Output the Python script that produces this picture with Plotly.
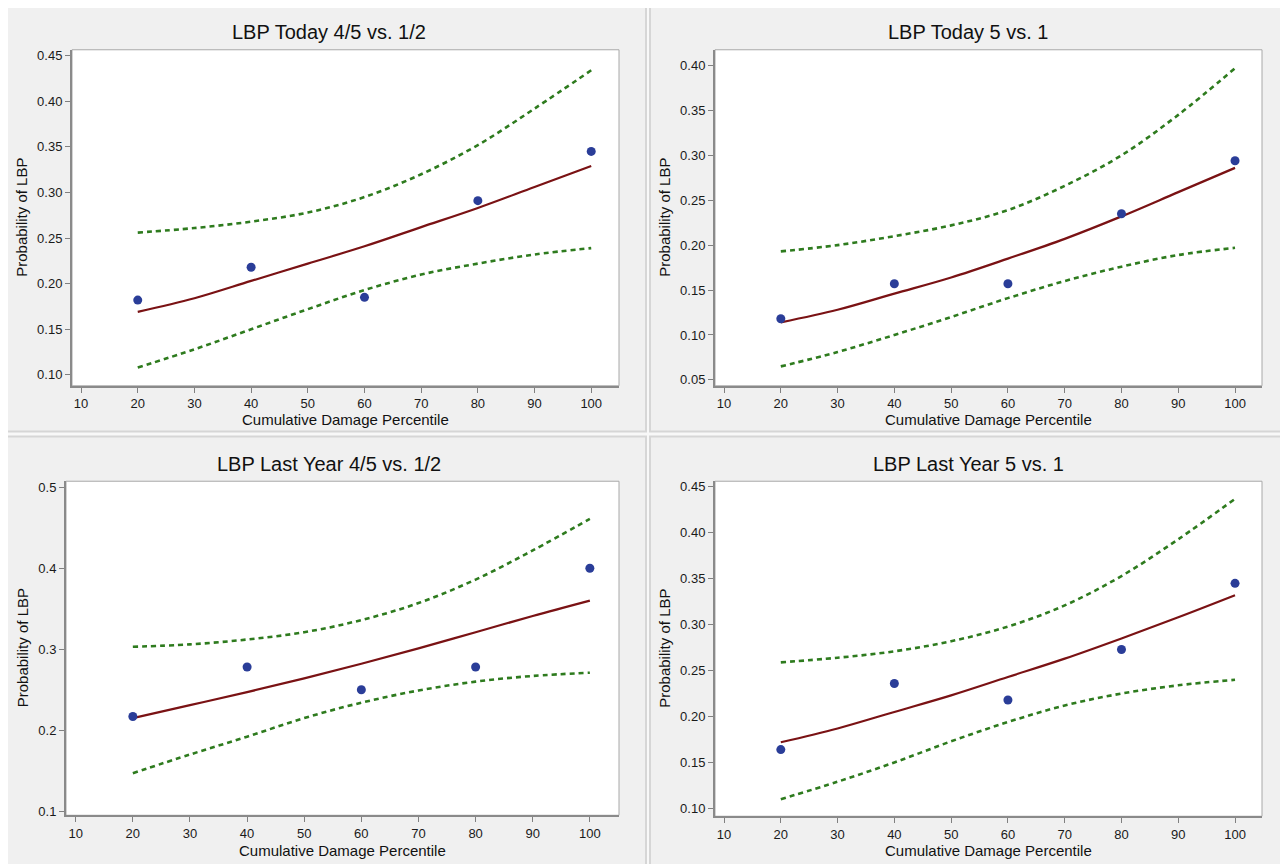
import plotly.graph_objects as go

# ---------------- data ----------------
x_obs = [20, 40, 60, 80, 100]
x_curve = [20, 30, 40, 50, 60, 70, 80, 90, 100]

titles = ["LBP Today 4/5 vs. 1/2", "LBP Today 5 vs. 1",
          "LBP Last Year 4/5 vs. 1/2", "LBP Last Year 5 vs. 1"]
x_title = "Cumulative Damage Percentile"
y_title = "Probability of LBP"

today45_obs = [0.182, 0.218, 0.185, 0.291, 0.345]
today45_fit = [0.169, 0.184, 0.203, 0.222, 0.241, 0.262, 0.283, 0.306, 0.329]
today45_upper = [0.256, 0.261, 0.268, 0.278, 0.295, 0.320, 0.352, 0.392, 0.434]
today45_lower = [0.108, 0.128, 0.150, 0.172, 0.193, 0.210, 0.222, 0.232, 0.239]

today5_obs = [0.118, 0.157, 0.157, 0.235, 0.294]
today5_fit = [0.114, 0.128, 0.146, 0.164, 0.185, 0.207, 0.232, 0.259, 0.286]
today5_upper = [0.193, 0.200, 0.210, 0.222, 0.239, 0.266, 0.300, 0.345, 0.397]
today5_lower = [0.065, 0.081, 0.100, 0.120, 0.141, 0.160, 0.176, 0.189, 0.197]

lastyr45_obs = [0.217, 0.278, 0.250, 0.278, 0.400]
lastyr45_fit = [0.215, 0.231, 0.247, 0.264, 0.282, 0.301, 0.321, 0.341, 0.360]
lastyr45_upper = [0.303, 0.306, 0.312, 0.321, 0.336, 0.357, 0.386, 0.422, 0.461]
lastyr45_lower = [0.147, 0.170, 0.192, 0.215, 0.234, 0.249, 0.260, 0.267, 0.271]

lastyr5_obs = [0.164, 0.236, 0.218, 0.273, 0.345]
lastyr5_fit = [0.172, 0.187, 0.205, 0.223, 0.243, 0.263, 0.285, 0.308, 0.332]
lastyr5_upper = [0.259, 0.264, 0.271, 0.282, 0.298, 0.321, 0.353, 0.393, 0.437]
lastyr5_lower = [0.110, 0.129, 0.150, 0.173, 0.194, 0.212, 0.225, 0.234, 0.240]

x_ticks = [10, 20, 30, 40, 50, 60, 70, 80, 90, 100]
y_ticks_today45 = [0.10, 0.15, 0.20, 0.25, 0.30, 0.35, 0.40, 0.45]
y_ticks_today5 = [0.05, 0.10, 0.15, 0.20, 0.25, 0.30, 0.35, 0.40]
y_ticks_lastyr45 = [0.1, 0.2, 0.3, 0.4, 0.5]
y_ticks_lastyr5 = [0.10, 0.15, 0.20, 0.25, 0.30, 0.35, 0.40, 0.45]

# ---------------- layout geometry (page pixels) ----------------
OFF = 8                      # page body margin
W, H = 1288 - OFF, 864 - OFF  # figure size
FONT = "Liberation Sans, Arial, Helvetica, sans-serif"
C_PT = "#2a3d98"
C_FIT = "#7a1214"
C_CI = "#2e7b1e"


def fx(px):
    return (px - OFF) / W


def fy(py):
    return 1 - (py - OFF) / H


panels = [
    dict(obs=today45_obs, fit=today45_fit, up=today45_upper, lo=today45_lower,
         yt=y_ticks_today45, fmt=".2f", px=(72, 619), py=(48, 386),
         xr=[8.4, 104.9], yr=[0.088, 0.4565], box=(6, 646, 4, 432),
         tx=329, ty=30, xty=420, ytx=22),
    dict(obs=today5_obs, fit=today5_fit, up=today5_upper, lo=today5_lower,
         yt=y_ticks_today5, fmt=".2f", px=(715, 1262), py=(48, 386),
         xr=[8.41, 104.75], yr=[0.0434, 0.4175], box=(650, 1300, 4, 432),
         tx=968, ty=30, xty=420, ytx=665),
    dict(obs=lastyr45_obs, fit=lastyr45_fit, up=lastyr45_upper, lo=lastyr45_lower,
         yt=y_ticks_lastyr45, fmt=".1f", px=(66, 619), py=(482, 818),
         xr=[8.3, 105.1], yr=[0.095, 0.5074], box=(6, 646, 437, 880),
         tx=329, ty=465, xty=853, ytx=22),
    dict(obs=lastyr5_obs, fit=lastyr5_fit, up=lastyr5_upper, lo=lastyr5_lower,
         yt=y_ticks_lastyr5, fmt=".2f", px=(715, 1262), py=(482, 819),
         xr=[8.41, 104.75], yr=[0.0914, 0.4562], box=(650, 1300, 437, 880),
         tx=968, ty=465, xty=853, ytx=665),
]

fig = go.Figure()
shapes = []
annotations = []
layout_axes = {}

for i, p in enumerate(panels):
    n = "" if i == 0 else str(i + 1)
    xa, ya = "x" + n, "y" + n

    bx0, bx1, by0, by1 = p["box"]
    shapes.append(dict(type="rect", xref="paper", yref="paper", layer="below",
                       x0=fx(bx0), x1=fx(bx1), y0=fy(by1), y1=fy(by0),
                       fillcolor="#f0f0f0", line=dict(color="#d6d6d6", width=2)))
    shapes.append(dict(type="rect", xref=xa + " domain", yref=ya + " domain", layer="below",
                       x0=0, x1=1, y0=0, y1=1, fillcolor="white",
                       line=dict(color="#a8a8a8", width=1)))

    tickfont = dict(size=13, color="#1a1a1a", family=FONT)
    layout_axes["xaxis" + n] = dict(
        domain=[fx(p["px"][0]), fx(p["px"][1])], range=p["xr"], anchor=ya,
        tickvals=x_ticks, ticks="outside", ticklen=5, tickwidth=1, tickcolor="#808080",
        showline=True, linecolor="#8a8a8a", linewidth=2, mirror=False,
        showgrid=False, zeroline=False, tickfont=tickfont)
    layout_axes["yaxis" + n] = dict(
        domain=[fy(p["py"][1]), fy(p["py"][0])], range=p["yr"], anchor=xa,
        tickvals=p["yt"], tickformat=p["fmt"], ticks="outside", ticklen=5, tickwidth=1,
        tickcolor="#808080", showline=True, linecolor="#8a8a8a", linewidth=2, mirror=False,
        showgrid=False, zeroline=False, tickfont=tickfont)

    for band in (p["up"], p["lo"]):
        fig.add_trace(go.Scatter(x=x_curve, y=band, mode="lines", xaxis=xa, yaxis=ya,
                                 line=dict(color=C_CI, width=2.6, dash="5px,4px", shape="spline"),
                                 showlegend=False, hoverinfo="skip"))
    fig.add_trace(go.Scatter(x=x_curve, y=p["fit"], mode="lines", xaxis=xa, yaxis=ya,
                             line=dict(color=C_FIT, width=2.2, shape="spline"),
                             showlegend=False))
    fig.add_trace(go.Scatter(x=x_obs, y=p["obs"], mode="markers", xaxis=xa, yaxis=ya,
                             marker=dict(color=C_PT, size=9, line=dict(width=0)),
                             showlegend=False))

    cx = (p["px"][0] + p["px"][1]) / 2
    cy = (p["py"][0] + p["py"][1]) / 2
    annotations.append(dict(text=titles[i], xref="paper", yref="paper",
                            x=fx(p["tx"]), y=fy(p["ty"]), showarrow=False,
                            xanchor="center", yanchor="middle",
                            font=dict(size=20, color="#111111", family=FONT)))
    annotations.append(dict(text=x_title, xref="paper", yref="paper",
                            x=fx(cx), y=fy(p["xty"]), showarrow=False,
                            xanchor="center", yanchor="middle",
                            font=dict(size=15, color="#111111", family=FONT)))
    annotations.append(dict(text=y_title, xref="paper", yref="paper",
                            x=fx(p["ytx"]), y=fy(cy), showarrow=False, textangle=-90,
                            xanchor="center", yanchor="middle",
                            font=dict(size=15, color="#111111", family=FONT)))

fig.update_layout(width=W, height=H, margin=dict(l=0, r=0, t=0, b=0),
                  paper_bgcolor="#f8f8f8", plot_bgcolor="rgba(0,0,0,0)",
                  shapes=shapes, annotations=annotations, showlegend=False,
                  font=dict(family=FONT), **layout_axes)

fig.write_html("out.html")
